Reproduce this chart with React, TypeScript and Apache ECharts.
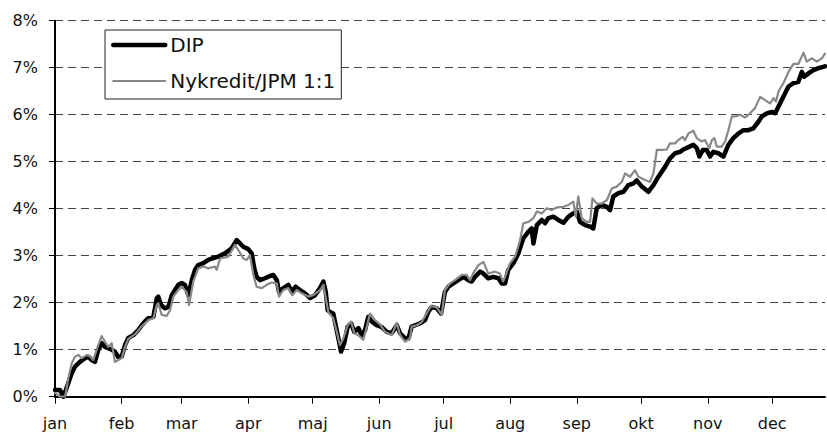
import React, { useEffect, useRef } from "react";
import * as echarts from "echarts";

// Month starts (day of year) and their labels
const monthStarts = [0, 31, 59, 90, 120, 151, 181, 212, 243, 273, 304, 334];
const monthLabels = ["jan", "feb", "mar", "apr", "maj", "jun", "jul", "aug", "sep", "okt", "nov", "dec"];
const xMax = 358.6;

// Y axis (percent)
const yMin = 0;
const yMax = 8;
const yStep = 1;

const seriesNames = ["DIP", "Nykredit/JPM 1:1"];

// [day of year, return in %]
const dip: [number, number][] = [
  [0, 0.14], [2.3, 0.14], [3.9, 0.0], [6.2, 0.29], [7.8, 0.5], [9.3, 0.64], [11.6, 0.74], [14.0, 0.82],
  [15.5, 0.85], [17.1, 0.78], [18.6, 0.74], [20.2, 1.0], [21.7, 1.14], [23.3, 1.06], [24.8, 1.03],
  [26.4, 1.0], [27.9, 0.96], [29.5, 0.84], [31.1, 0.86], [32.6, 1.1], [34.1, 1.25], [36.5, 1.31],
  [38.8, 1.42], [40.4, 1.52], [41.9, 1.6], [43.5, 1.67], [45.8, 1.7], [47.4, 2.09], [48.1, 2.13],
  [49.4, 1.95], [51.2, 1.88], [52.8, 1.91], [54.4, 2.16], [55.9, 2.27], [57.4, 2.38], [59.0, 2.42],
  [60.5, 2.38], [62.1, 2.16], [63.7, 2.48], [65.2, 2.7], [66.7, 2.8], [69.1, 2.84], [71.4, 2.91],
  [73.0, 2.94], [76.1, 2.98], [79.2, 3.05], [82.3, 3.16], [84.6, 3.33], [86.2, 3.26], [87.7, 3.19],
  [90.0, 3.14], [91.6, 3.05], [92.8, 2.73], [93.9, 2.55], [95.5, 2.48], [97.8, 2.52], [100.1, 2.57],
  [101.7, 2.59], [103.3, 2.48], [104.3, 2.23], [106.3, 2.31], [108.7, 2.38], [110.2, 2.23], [112.1, 2.34],
  [114.1, 2.27], [116.4, 2.2], [118.8, 2.1], [121.1, 2.16], [123.4, 2.31], [125.0, 2.45], [126.1, 2.23],
  [127.0, 1.84], [128.1, 1.8], [129.6, 1.77], [130.7, 1.52], [132.0, 1.24], [133.2, 0.96], [134.7, 1.14],
  [136.3, 1.49], [137.9, 1.56], [139.4, 1.38], [141.3, 1.46], [142.8, 1.31], [144.4, 1.42], [145.9, 1.7],
  [147.5, 1.6], [149.8, 1.52], [152.2, 1.48], [154.5, 1.38], [156.8, 1.35], [159.2, 1.52], [160.7, 1.35],
  [163.0, 1.24], [164.6, 1.24], [166.1, 1.49], [167.7, 1.52], [170.0, 1.56], [172.3, 1.63], [173.9, 1.81],
  [175.4, 1.91], [177.8, 1.88], [179.8, 1.77], [181.6, 2.23], [183.2, 2.34], [185.5, 2.41], [187.8, 2.48],
  [190.2, 2.55], [192.5, 2.48], [194.1, 2.45], [195.6, 2.55], [198.0, 2.66], [199.5, 2.62], [201.8, 2.52],
  [204.1, 2.55], [206.5, 2.52], [208.1, 2.41], [209.6, 2.41], [211.1, 2.7], [213.5, 2.84], [215.8, 3.05],
  [218.1, 3.37], [220.5, 3.51], [222.0, 3.58], [222.8, 3.26], [224.4, 3.65], [226.7, 3.76], [228.2, 3.69],
  [229.8, 3.8], [232.1, 3.83], [234.4, 3.76], [236.8, 3.7], [239.1, 3.83], [241.4, 3.9], [243.0, 3.94],
  [244.5, 3.72], [246.9, 3.65], [249.2, 3.62], [250.7, 3.58], [252.3, 4.01], [254.6, 4.08], [257.0, 4.04],
  [258.5, 3.97], [260.0, 4.26], [262.4, 4.33], [264.7, 4.36], [267.0, 4.5], [269.4, 4.54], [270.9, 4.6],
  [273.3, 4.47], [276.3, 4.36], [278.7, 4.5], [281.0, 4.68], [284.1, 4.89], [286.4, 5.07], [288.8, 5.18],
  [291.1, 5.21], [292.6, 5.26], [295.0, 5.31], [297.3, 5.36], [298.9, 5.29], [300.1, 5.11], [301.7, 5.25],
  [303.5, 5.25], [305.1, 5.11], [306.6, 5.21], [308.9, 5.18], [311.3, 5.11], [313.6, 5.36], [315.9, 5.5],
  [318.3, 5.6], [320.6, 5.67], [322.9, 5.67], [325.2, 5.71], [327.6, 5.85], [329.1, 5.96], [331.5, 6.03],
  [333.8, 6.06], [335.4, 6.03], [336.9, 6.17], [339.2, 6.38], [341.6, 6.6], [343.9, 6.67], [346.2, 6.7],
  [347.8, 6.91], [348.9, 6.81], [350.9, 6.88], [353.2, 6.95], [355.6, 6.99], [358.6, 7.03],
];

const nykredit: [number, number][] = [
  [0, 0.08], [2.3, 0.0], [4.7, 0.0], [6.2, 0.39], [7.8, 0.71], [9.3, 0.85], [10.9, 0.89], [12.4, 0.82],
  [14.8, 0.89], [16.3, 0.86], [17.8, 0.78], [19.4, 1.0], [21.7, 1.29], [23.3, 1.17], [24.8, 1.06],
  [26.4, 1.14], [27.9, 0.74], [29.5, 0.78], [31.1, 0.82], [32.6, 1.06], [34.1, 1.23], [37.3, 1.33],
  [40.4, 1.5], [43.5, 1.63], [45.8, 1.67], [47.4, 1.95], [48.1, 1.99], [49.7, 1.74], [52.0, 1.72],
  [53.6, 1.84], [55.1, 2.13], [57.4, 2.27], [59.0, 2.34], [61.3, 2.23], [62.4, 1.95], [64.4, 2.45],
  [66.7, 2.73], [69.1, 2.77], [71.4, 2.73], [74.5, 2.77], [75.3, 2.7], [76.9, 2.94], [80.7, 2.98],
  [83.8, 3.23], [85.4, 3.12], [87.7, 2.94], [89.3, 2.91], [90.8, 3.01], [92.4, 2.59], [93.9, 2.34],
  [96.3, 2.31], [98.6, 2.38], [100.9, 2.43], [103.3, 2.41], [104.3, 2.13], [106.3, 2.27], [108.7, 2.31],
  [110.5, 2.16], [112.6, 2.27], [114.9, 2.2], [118.0, 2.13], [120.3, 2.16], [123.4, 2.27], [125.0, 2.38],
  [126.1, 2.1], [127.3, 1.8], [129.6, 1.67], [131.2, 1.38], [132.7, 1.1], [134.3, 1.24], [136.3, 1.52],
  [137.9, 1.6], [139.4, 1.35], [141.3, 1.31], [143.6, 1.21], [145.2, 1.49], [146.7, 1.77], [149.0, 1.63],
  [151.4, 1.54], [153.7, 1.38], [156.8, 1.31], [159.2, 1.57], [160.7, 1.31], [163.0, 1.17], [165.3, 1.24],
  [166.1, 1.49], [168.5, 1.52], [170.8, 1.59], [173.1, 1.77], [175.1, 1.93], [177.8, 1.9], [180.1, 1.74],
  [181.6, 2.27], [184.0, 2.41], [186.3, 2.48], [189.4, 2.59], [191.7, 2.59], [193.3, 2.48], [194.8, 2.63],
  [197.2, 2.8], [199.5, 2.87], [201.8, 2.62], [204.9, 2.66], [207.2, 2.62], [208.7, 2.45], [209.6, 2.55],
  [211.9, 2.84], [214.3, 2.98], [216.6, 3.33], [218.1, 3.69], [220.5, 3.72], [222.8, 3.8], [224.4, 3.94],
  [226.7, 3.9], [229.0, 4.01], [231.3, 3.97], [233.7, 4.03], [236.8, 4.04], [239.1, 4.08], [241.4, 4.15],
  [242.5, 3.83], [243.7, 4.26], [245.3, 3.8], [247.6, 3.72], [249.2, 3.72], [250.3, 4.22], [252.3, 4.11],
  [254.6, 4.11], [257.0, 4.18], [259.3, 4.43], [261.6, 4.47], [264.0, 4.57], [265.5, 4.75], [267.8, 4.68],
  [270.1, 4.82], [271.7, 4.68], [274.8, 4.61], [277.1, 4.57], [278.7, 4.75], [280.3, 5.25], [282.7, 5.25],
  [284.9, 5.26], [286.4, 5.39], [288.8, 5.39], [290.3, 5.46], [292.3, 5.53], [293.4, 5.46], [295.0, 5.6],
  [297.3, 5.66], [298.9, 5.5], [301.2, 5.43], [302.7, 5.46], [304.7, 5.29], [305.9, 5.46], [307.1, 5.5],
  [308.2, 5.32], [310.5, 5.32], [312.1, 5.43], [313.6, 5.67], [315.2, 5.96], [317.5, 5.97], [319.0, 6.0],
  [321.4, 5.94], [323.7, 6.03], [326.0, 6.14], [328.4, 6.38], [330.7, 6.31], [333.0, 6.24], [334.6, 6.35],
  [335.8, 6.28], [336.9, 6.49], [339.2, 6.67], [341.6, 6.91], [343.9, 7.08], [346.2, 7.08], [348.6, 7.32],
  [350.1, 7.13], [352.5, 7.2], [354.8, 7.13], [357.1, 7.2], [358.6, 7.3],
];

const FONT = "DejaVu Sans";
const DIP_COLOR = "#000000";
const NYK_COLOR = "#888888";

export default function App() {
  const ref = useRef<HTMLDivElement>(null);

  useEffect(() => {
    if (!ref.current) return;
    const chart = echarts.init(ref.current, undefined, { renderer: "svg" });
    chart.setOption({
      animation: false,
      backgroundColor: "#ffffff",
      textStyle: { fontFamily: FONT },
      grid: { left: 55, right: 2, top: 20.7, bottom: 44.3, containLabel: false },
      legend: {
        show: true,
        data: [
          { name: seriesNames[0], lineStyle: { color: DIP_COLOR, width: 4.5 } },
          { name: seriesNames[1], lineStyle: { color: NYK_COLOR, width: 2.2 } },
        ],
        orient: "vertical",
        left: 105,
        top: 30,
        itemWidth: 52,
        itemHeight: 14,
        itemGap: 12,
        padding: [3, 6, 6, 6],
        borderColor: "#222",
        borderWidth: 1,
        backgroundColor: "#ffffff",
        itemStyle: { color: "rgba(0,0,0,0)", borderWidth: 0, opacity: 0 },
        textStyle: { fontSize: 20, lineHeight: 24, color: "#111", fontFamily: FONT },
      },
      xAxis: {
        type: "value",
        min: 0,
        max: xMax,
        axisLine: { show: true, lineStyle: { color: "#000", width: 2 } },
        axisTick: {
          show: true,
          customValues: monthStarts,
          length: 7,
          lineStyle: { color: "#000", width: 1 },
        },
        axisLabel: {
          show: true,
          customValues: monthStarts,
          margin: 19,
          fontSize: 16,
          color: "#111",
          fontFamily: FONT,
          formatter: (v: number) => {
            const i = monthStarts.indexOf(Math.round(v));
            return i >= 0 ? monthLabels[i] : "";
          },
        },
        splitLine: { show: false },
      },
      yAxis: {
        type: "value",
        min: yMin,
        max: yMax,
        interval: yStep,
        axisLine: { show: true, lineStyle: { color: "#000", width: 2 } },
        axisTick: { show: true, length: 6, lineStyle: { color: "#000", width: 1 } },
        axisLabel: {
          margin: 17,
          fontSize: 16,
          color: "#111",
          fontFamily: FONT,
          formatter: (v: number) => `${v}%`,
        },
        splitLine: { show: true, lineStyle: { color: "#444", width: 1, type: [8, 5] } },
      },
      series: [
        {
          name: seriesNames[0],
          type: "line",
          data: dip,
          symbol: "none",
          showSymbol: false,
          z: 2,
          itemStyle: { color: DIP_COLOR },
          lineStyle: { color: DIP_COLOR, width: 4.5, cap: "round", join: "round" },
        },
        {
          name: seriesNames[1],
          type: "line",
          data: nykredit,
          symbol: "none",
          showSymbol: false,
          z: 3,
          itemStyle: { color: NYK_COLOR },
          lineStyle: { color: NYK_COLOR, width: 2.2, cap: "round", join: "round" },
        },
      ],
    });
    return () => chart.dispose();
  }, []);

  return (
    <div
      ref={ref}
      style={{ position: "absolute", left: 0, top: 0, width: 827, height: 441 }}
    />
  );
}
